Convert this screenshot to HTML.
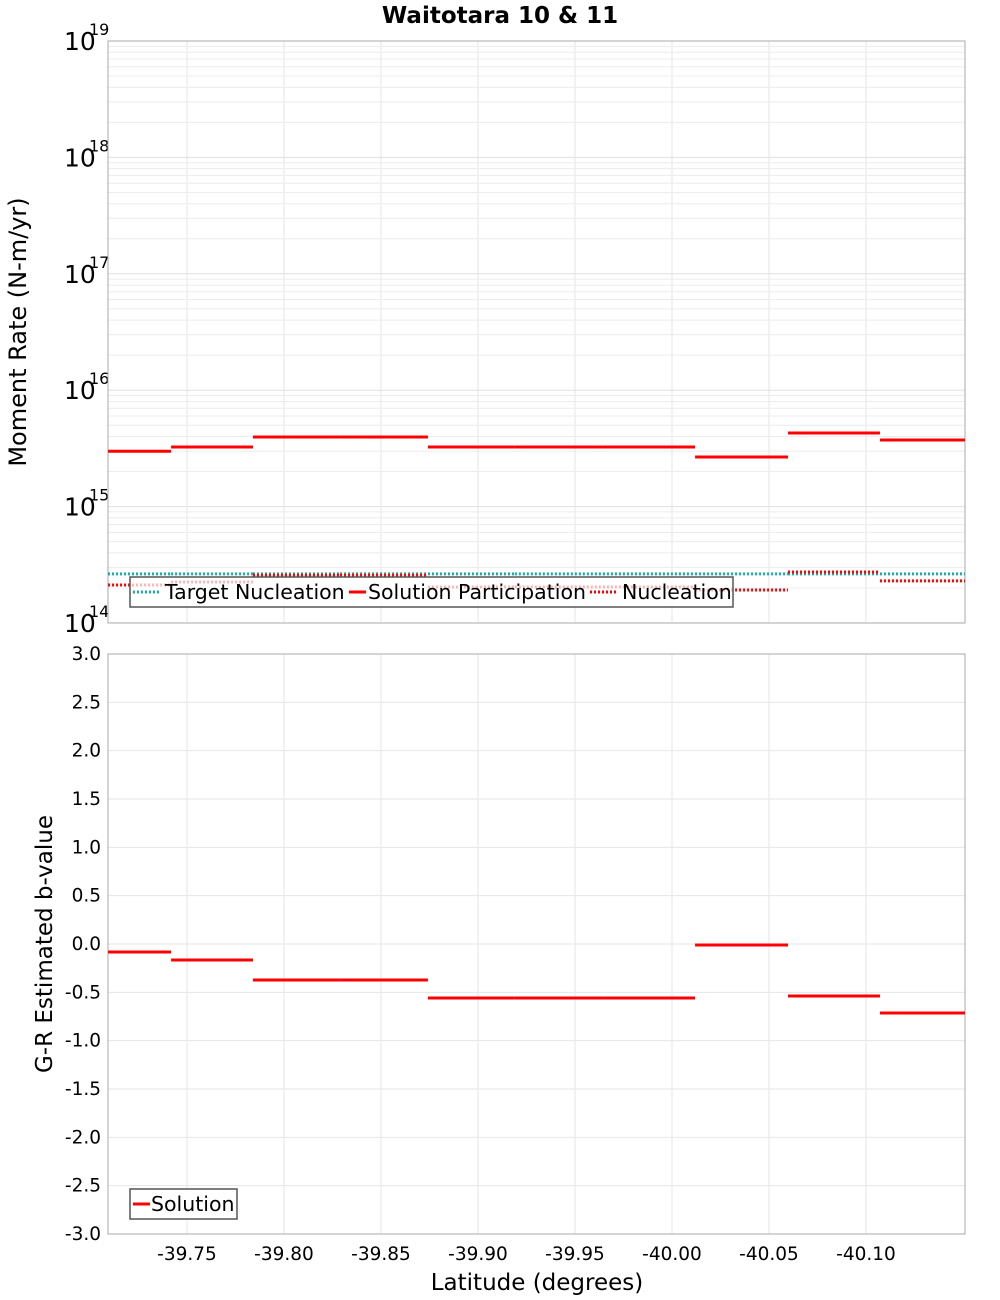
<!DOCTYPE html>
<html><head><meta charset="utf-8"><style>body{margin:0;background:#fff}svg{display:block;font-family:"DejaVu Sans","Liberation Sans",sans-serif}</style></head>
<body>
<svg id="c" width="1000" height="1300"></svg>
<script>
const boundaries=[-39.7093,-39.7418,-39.784,-39.8289,-39.8742,-39.919,-39.9644,-40.0119,-40.0598,-40.1072,-40.151];
const participation=[2.99e15,3.25e15,3.96e15,3.96e15,3.25e15,3.25e15,3.25e15,2.67e15,4.29e15,3.73e15];
const nucleation=[2.12e14,2.25e14,2.58e14,2.58e14,2.04e14,2.04e14,2.04e14,1.92e14,2.74e14,2.30e14];
const targetNucleation=[2.64e14,2.64e14,2.64e14,2.64e14,2.64e14,2.64e14,2.64e14,2.64e14,2.64e14,2.64e14];
const bValues=[-0.083,-0.165,-0.372,-0.372,-0.559,-0.559,-0.559,-0.01,-0.538,-0.714];
const xTicks=[-39.75,-39.80,-39.85,-39.90,-39.95,-40.00,-40.05,-40.10];
const bTicks=[3.0,2.5,2.0,1.5,1.0,0.5,0.0,-0.5,-1.0,-1.5,-2.0,-2.5,-3.0];
const decades=[14,15,16,17,18,19];
const NS="http://www.w3.org/2000/svg",svg=document.getElementById('c');
const L=108,R=965,T1=41,B1=623,T2=654,B2=1234;
const xs=v=>187+(-39.75-v)/0.05*97;
const y1=v=>B1-(Math.log10(v)-14)*(B1-T1)/5;
const y2=v=>T2+(3-v)*(B2-T2)/6;
function el(t,a,txt){const e=document.createElementNS(NS,t);for(const k in a)e.setAttribute(k,a[k]);if(txt!=null)e.textContent=txt;svg.appendChild(e);return e;}
let e=el('rect',{x:L,y:T1,width:R-L,height:B1-T1,fill:'#fff',stroke:'#aaa'});

e=el('rect',{x:L,y:T2,width:R-L,height:B2-T2,fill:'#fff',stroke:'#aaa'});

for(const t of xTicks){const x=xs(t);
 el('line',{x1:x,x2:x,y1:T1,y2:B1,stroke:'#e6e6e6'});el('line',{x1:x,x2:x,y1:T2,y2:B2,stroke:'#e6e6e6'});
 e=el('text',{x:x,y:1260,'font-size':18.5,'text-anchor':'middle'},t.toFixed(2));
 }
for(const d of decades){
 if(d<19)for(let m=2;m<10;m++){const y=y1(m*Math.pow(10,d));el('line',{x1:L,x2:R,y1:y,y2:y,stroke:'#ececec'});}
 const y=y1(Math.pow(10,d));el('line',{x1:L,x2:R,y1:y,y2:y,stroke:'#e0e0e0'});
 e=el('text',{x:64,y:y+9,'font-size':25},'10');
 e=el('text',{x:89,y:y-6,'font-size':16},String(d));}
for(const b of bTicks){const y=y2(b);el('line',{x1:L,x2:R,y1:y,y2:y,stroke:'#e6e6e6'});
 e=el('text',{x:101,y:y+6,'font-size':18.5,'text-anchor':'end'},b.toFixed(1));}
el('rect',{x:L,y:T1,width:R-L,height:B1-T1,fill:'none',stroke:'#aaa'});
el('rect',{x:L,y:T2,width:R-L,height:B2-T2,fill:'none',stroke:'#aaa'});
function seg(arr,yf,stroke,dash,name){for(let i=0;i<arr.length;i++){const a={x1:xs(boundaries[i]),x2:xs(boundaries[i+1]),y1:yf(arr[i]),y2:yf(arr[i]),stroke:stroke,'stroke-width':3};if(dash)a['stroke-dasharray']=dash;const l=el('line',a);}}
seg(targetNucleation,y1,'#1aadb0','2,2','target-nucleation-segment');
seg(nucleation,y1,'#f00','2,2','nucleation-segment');
seg(participation,y1,'#f00',null,'participation-segment');
seg(bValues,y2,'#f00',null,'b-value-segment');
e=el('rect',{x:130,y:577,width:603,height:30,fill:'#fff','fill-opacity':0.7,stroke:'#555','stroke-width':1.5});

el('line',{x1:133,x2:161,y1:592,y2:592,stroke:'#1aadb0','stroke-width':3,'stroke-dasharray':'2,2'});
e=el('text',{x:165,y:599,'font-size':20.5},'Target Nucleation');
el('line',{x1:349,x2:366,y1:592,y2:592,stroke:'#f00','stroke-width':3});
e=el('text',{x:368,y:599,'font-size':20.5},'Solution Participation');
el('line',{x1:590,x2:618,y1:592,y2:592,stroke:'#f00','stroke-width':3,'stroke-dasharray':'2,2'});
e=el('text',{x:622,y:599,'font-size':20.5},'Nucleation');
e=el('rect',{x:130,y:1189,width:107,height:30,fill:'#fff',stroke:'#555','stroke-width':1.5});

el('line',{x1:133,x2:150,y1:1204,y2:1204,stroke:'#f00','stroke-width':3});
e=el('text',{x:151,y:1211,'font-size':20.5},'Solution');
e=el('text',{x:500,y:23,'font-size':23,'font-weight':'bold','text-anchor':'middle'},'Waitotara 10 & 11');
e=el('text',{x:537,y:1290,'font-size':23,'text-anchor':'middle'},'Latitude (degrees)');
e=el('text',{x:0,y:0,'font-size':24,'text-anchor':'middle',transform:'translate(26,332) rotate(-90)'},'Moment Rate (N-m/yr)');
e=el('text',{x:0,y:0,'font-size':23,'text-anchor':'middle',transform:'translate(52,944) rotate(-90)'},'G-R Estimated b-value');
</script>
</body></html>
